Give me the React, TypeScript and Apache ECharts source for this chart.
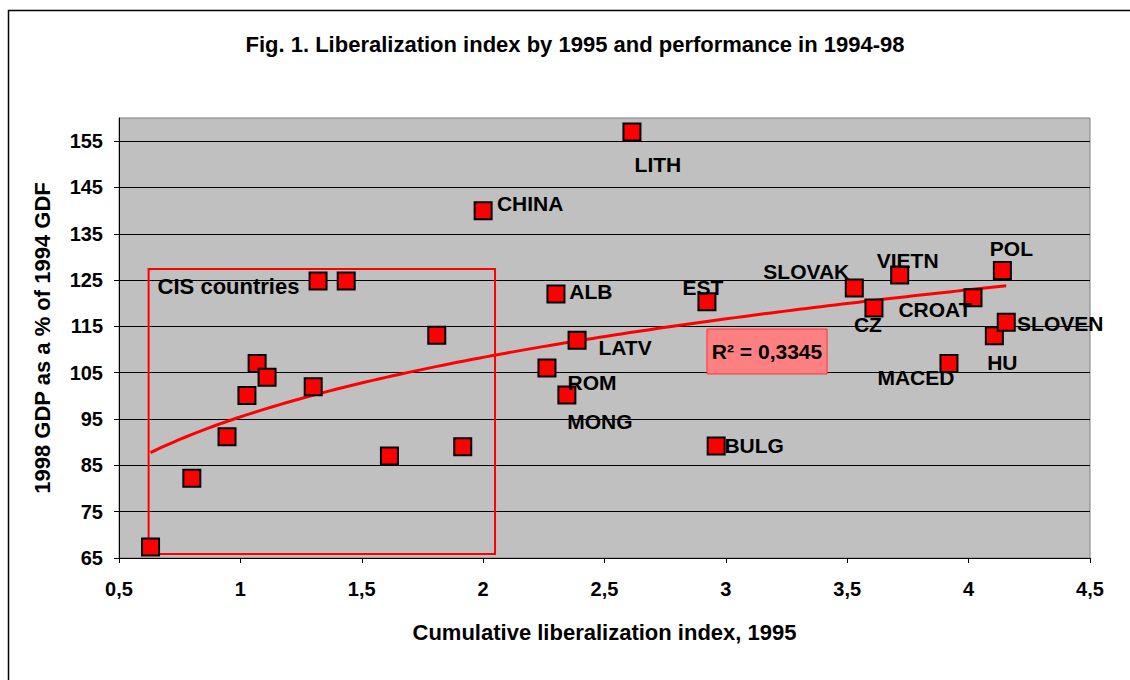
import React, { useEffect, useRef } from "react";
import * as echarts from "echarts";

const FONT = '"Liberation Sans", Arial, Helvetica, sans-serif';

const chartTitle = "Fig. 1. Liberalization index by 1995 and performance in 1994-98";
const xAxisName = "Cumulative liberalization index, 1995";
const yAxisName = "1998 GDP as a % of 1994 GDF";
const r2Text = "R\u00B2 = 0,3345";
const cisText = "CIS countries";

// CIS countries (unlabelled points)
const cisX = [0.63, 0.8, 0.945, 1.027, 1.069, 1.11, 1.3, 1.32, 1.436, 1.614, 1.809, 1.916];
const cisY = [67.4, 82.2, 91.2, 100.1, 107.0, 104.0, 102.0, 124.8, 124.8, 87.0, 113.1, 89.0];

// labelled countries
const countryNames = ["CHINA", "LITH", "ALB", "LATV", "ROM", "MONG", "EST", "BULG", "SLOVAK", "CZ", "VIETN", "MACED", "CROAT", "HU", "POL", "SLOVEN"];
const countryX = [2.0, 2.613, 2.3, 2.387, 2.263, 2.345, 2.922, 2.96, 3.529, 3.61, 3.716, 3.919, 4.018, 4.106, 4.139, 4.155];
const countryY = [140.0, 157.0, 122.0, 112.0, 106.0, 100.2, 120.3, 89.2, 123.3, 119.0, 126.1, 107.0, 121.2, 113.0, 127.1, 115.9];

// annotation boxes, in data units
const cisBoxX = [0.622, 2.049];
const cisBoxY = [65.86, 127.4];
const r2BoxX = [2.922, 3.417];
const r2BoxY = [104.73, 114.44];

// axis ranges
const xRange = [0.5, 4.5];
const xStep = 0.5;
const yRange = [65, 160];
const yStep = 10;

// label placement (pixel offsets from the marker centre) - style only
const labelOffsets: Record<string, [number, number]> = {
  CHINA: [47, -7],
  LITH: [26, 33],
  ALB: [35, -3],
  LATV: [48, 7],
  ROM: [45, 14],
  MONG: [33, 27],
  EST: [-4, -14],
  BULG: [38, 0],
  SLOVAK: [-48, -16],
  CZ: [-6, 17],
  VIETN: [8, -15],
  MACED: [-33, 14],
  CROAT: [-38, 12],
  HU: [8, 27],
  POL: [9, -22],
  SLOVEN: [54, 1],
};

// power trend line (least squares on logs), as Excel's power trendline
function powerFit(xs: number[], ys: number[]) {
  const lx = xs.map(Math.log);
  const ly = ys.map(Math.log);
  const n = xs.length;
  const mx = lx.reduce((a, b) => a + b, 0) / n;
  const my = ly.reduce((a, b) => a + b, 0) / n;
  let sxy = 0;
  let sxx = 0;
  for (let i = 0; i < n; i++) {
    sxy += (lx[i] - mx) * (ly[i] - my);
    sxx += (lx[i] - mx) * (lx[i] - mx);
  }
  const b = sxy / sxx;
  const a = Math.exp(my - b * mx);
  return { a, b };
}

export default function App() {
  const ref = useRef<HTMLDivElement>(null);

  useEffect(() => {
    if (!ref.current) return;
    const chart = echarts.init(ref.current, undefined, { renderer: "svg" });

    const allX = [...cisX, ...countryX];
    const allY = [...cisY, ...countryY];
    const { a, b } = powerFit(allX, allY);
    const x0 = Math.min(...allX);
    const x1 = Math.max(...allX);
    const trend: number[][] = [];
    const steps = 120;
    for (let i = 0; i <= steps; i++) {
      const x = x0 + ((x1 - x0) * i) / steps;
      trend.push([x, a * Math.pow(x, b)]);
    }

    const textBase = { fontFamily: FONT, fontWeight: "bold" as const, color: "#000", fontSize: 20 };
    const bigText = { ...textBase, fontSize: 22 };
    const markText = { ...textBase, fontSize: 21 };

    const scatterData = [
      ...cisX.map((x, i) => ({ value: [x, cisY[i]], name: "" })),
      ...countryX.map((x, i) => {
        const nm = countryNames[i];
        const off = labelOffsets[nm] || [0, 0];
        return {
          value: [x, countryY[i]],
          name: nm,
          label: {
            show: true,
            position: "inside",
            offset: off,
            formatter: nm,
            ...markText,
          },
        };
      }),
    ];

    const option: any = {
      animation: false,
      backgroundColor: "#ffffff",
      grid: {
        left: 119,
        top: 118,
        right: 40,
        bottom: 122,
        show: true,
        backgroundColor: "#C0C0C0",
        borderColor: "#808080",
        borderWidth: 1,
      },
      graphic: [
        {
          type: "polyline",
          shape: { points: [[8.5, 690], [8.5, 10.5], [1140, 10.5]] },
          style: { stroke: "#000", lineWidth: 1.5, fill: null },
          silent: true,
        },
        {
          type: "text",
          x: 575,
          y: 44,
          style: {
            text: chartTitle,
            textAlign: "center",
            textVerticalAlign: "middle",
            font: `bold 22px ${FONT}`,
            fill: "#000",
          },
        },
      ],
      xAxis: {
        type: "value",
        min: xRange[0],
        max: xRange[1],
        interval: xStep,
        name: xAxisName,
        nameLocation: "middle",
        nameGap: 63,
        nameTextStyle: { ...bigText },
        axisLine: { show: true, onZero: false, lineStyle: { color: "#000", width: 1 } },
        axisTick: { show: true, length: 5, lineStyle: { color: "#000" } },
        splitLine: { show: false },
        axisLabel: {
          margin: 21,
          ...textBase,
          formatter: (v: number) => String(v).replace(".", ","),
        },
      },
      yAxis: {
        type: "value",
        min: yRange[0],
        max: yRange[1],
        interval: yStep,
        name: yAxisName,
        nameLocation: "middle",
        nameGap: 66,
        nameTextStyle: { ...bigText },
        axisLine: { show: true, onZero: false, lineStyle: { color: "#000", width: 1 } },
        axisTick: { show: true, length: 5, lineStyle: { color: "#000" } },
        splitLine: { show: true, showMaxLine: false, lineStyle: { color: "#000", width: 1 } },
        axisLabel: {
          margin: 16,
          showMaxLabel: false,
          ...textBase,
        },
      },
      series: [
        {
          type: "line",
          name: "trend",
          data: trend,
          showSymbol: false,
          symbol: "none",
          smooth: false,
          z: 2,
          lineStyle: { color: "#FF0000", width: 3 },
          silent: true,
          markArea: {
            silent: true,
            data: [
              [
                {
                  xAxis: cisBoxX[0],
                  yAxis: cisBoxY[1],
                  itemStyle: { color: "rgba(0,0,0,0)", borderColor: "#FF0000", borderWidth: 2 },
                  label: {
                    show: true,
                    position: [10, 8],
                    formatter: cisText,
                    ...bigText,
                  },
                },
                { xAxis: cisBoxX[1], yAxis: cisBoxY[0] },
              ],
              [
                {
                  xAxis: r2BoxX[0],
                  yAxis: r2BoxY[1],
                  itemStyle: { color: "#FF8080", borderColor: "#FF3333", borderWidth: 1, opacity: 1 },
                  label: {
                    show: true,
                    position: "inside",
                    formatter: r2Text,
                    ...markText,
                  },
                },
                { xAxis: r2BoxX[1], yAxis: r2BoxY[0] },
              ],
            ],
          },
        },
        {
          type: "scatter",
          name: "countries",
          data: scatterData,
          symbol: "rect",
          symbolSize: 17,
          z: 3,
          itemStyle: { color: "#FF0000", borderColor: "#000", borderWidth: 2, opacity: 1 },
        },
      ],
    };

    chart.setOption(option);
    return () => chart.dispose();
  }, []);

  return (
    <div
      ref={ref}
      style={{ position: "fixed", left: 0, top: 0, width: 1130, height: 680, background: "#fff" }}
    />
  );
}
